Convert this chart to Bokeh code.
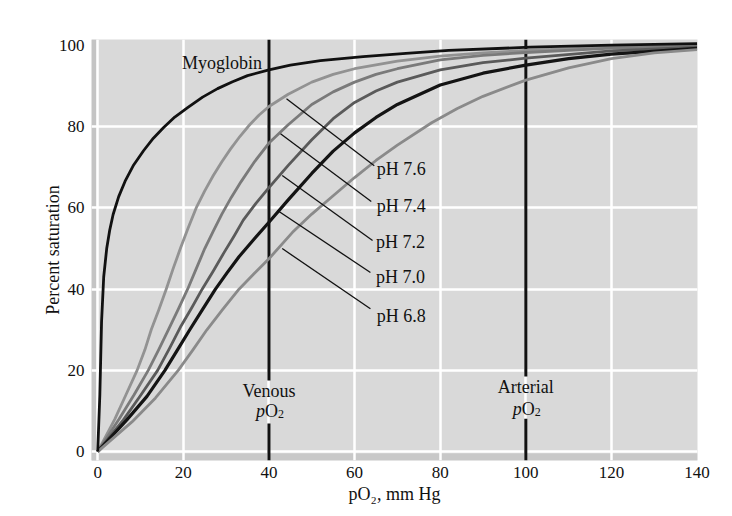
from bokeh.plotting import figure
from bokeh.models import Range1d, BoxAnnotation, FixedTicker
from bokeh.core.properties import value
from bokeh.embed import file_html
from bokeh.resources import INLINE

FONT = "Liberation Serif"

# ---------------- data ----------------
x_ticks = [0, 20, 40, 60, 80, 100, 120, 140]
y_ticks = [0, 20, 40, 60, 80, 100]

myo_x = [0, 0.5, 0.9, 1.4, 2.1, 2.8, 3.6, 4.9, 6.4, 8.4, 10.7, 13, 15.4, 18, 21, 24.5, 28, 31.5, 35, 40,
         45, 52, 62, 72, 82, 101, 120, 140]
myo_y = [0, 14, 32, 43, 50, 54.5, 58.4, 62.8, 66.6, 70.6, 74.1, 77.2, 79.8, 82.4, 84.7, 87.3, 89.4, 91.1,
         92.6, 94, 95.2, 96.3, 97.3, 98.1, 98.8, 99.6, 100.1, 100.5]

ph76_x = [0, 4, 6.6, 9.2, 11, 12.5, 14.3, 16, 17.6, 19.3, 21.1, 23, 25, 27, 29, 31, 33.2, 35.5, 37.7, 40,
          44.5, 50, 55, 60, 70, 80, 90, 100, 120, 140]
ph76_y = [0, 8, 14, 20, 25, 30, 35, 40, 45, 50, 55, 60, 64.2, 68, 71.4, 74.5, 77.6, 80.5, 82.9, 85,
          88, 91, 92.9, 94.3, 96.2, 97.4, 98.2, 98.8, 99.6, 100]

ph74_x = [0, 5, 8.5, 11.8, 14.2, 16.5, 18.8, 21, 23, 25, 27, 29, 31.2, 33.5, 36.7, 40, 44.5, 50, 55, 60,
          65, 70, 80, 90, 100, 120, 140]
ph74_y = [0, 8, 14, 20, 25, 30, 35, 40, 45, 50, 54.3, 58.5, 62.6, 66.5, 71.5, 76, 80.5, 85.5, 88.6, 91,
          92.9, 94.3, 96.5, 97.6, 98.3, 99.4, 99.8]

ph72_x = [0, 6, 10, 14, 16.8, 19.5, 22, 24.4, 27, 29.5, 31.8, 34, 37, 40, 44.5, 50, 55, 60, 65, 70,
          80, 90, 100, 120, 140]
ph72_y = [0, 7.8, 13.8, 20, 25.5, 31, 35.5, 40, 44.5, 49, 53, 57, 61.2, 65, 70.5, 76.8, 82, 86, 88.8, 91,
          94, 95.8, 96.9, 98.7, 99.6]

ph70_x = [0, 6.8, 11.5, 15.7, 18.6, 21.5, 24.5, 27.5, 30.2, 33, 36.5, 40, 44.5, 50, 55, 60, 65, 70,
          80, 90, 100, 110, 120, 140]
ph70_y = [0, 7.8, 13.6, 20, 25, 30, 35, 40, 44, 48, 52.3, 56.5, 62, 68.5, 74, 78.5, 82.3, 85.5,
          90.3, 93.2, 95.2, 96.8, 97.9, 99.3]

ph68_x = [0, 8, 13.5, 18.8, 22.2, 25.5, 29.2, 33, 36.5, 40, 45.5, 50, 55, 60, 65, 70, 78, 84, 90, 100,
          110, 120, 130, 140]
ph68_y = [0, 7.3, 13.2, 20, 25, 30, 35, 40, 43.8, 47.5, 54, 58.5, 63, 67.5, 71.7, 75.5, 81, 84.5, 87.5, 91.5,
          94.5, 96.8, 98.2, 99]

curve_colors = ["#929292", "#7a7a7a", "#5a5a5a", "#141414", "#8a8a8a"]
curve_widths = [2.8, 2.8, 2.8, 3.2, 2.8]

ph_labels = ["pH 7.6", "pH 7.4", "pH 7.2", "pH 7.0", "pH 6.8"]
ph_label_x = [65.2, 65.2, 65.0, 65.0, 65.2]
ph_label_y = [69.5, 60.4, 51.5, 43.1, 33.3]
lead_x0 = [44.1, 42.7, 43.1, 42.0, 43.1]
lead_y0 = [86.9, 78.3, 68.0, 59.4, 50.0]
lead_x1 = [64.6, 63.9, 64.2, 63.7, 63.7]
lead_y1 = [70.4, 61.6, 52.0, 44.1, 35.2]

ref_x = [40, 100]
ref_names = ["Venous", "Arterial"]
ref_gap_top = [17.5, 18.5]
ref_gap_bottom = [6.9, 8.1]
ref_name_y = [15.0, 15.8]
ref_po2_y = [9.9, 10.6]

X0, X1 = -1.45, 140.1
Y0, Y1 = -2.2, 101.5

# ---------------- figure ----------------
p = figure(frame_width=606, frame_height=421,
           x_range=Range1d(X0, X1), y_range=Range1d(Y0, Y1),
           output_backend="svg", toolbar_location=None,
           min_border_left=91, min_border_top=39, min_border_right=15, min_border_bottom=48)
p.background_fill_color = "#d9d9d9"
p.border_fill_color = "white"
p.outline_line_color = None

# darker scan shading strips
p.add_layout(BoxAnnotation(left=X0, right=-0.3, fill_color="#c4c4c4", fill_alpha=1, line_color=None, level="image"))
p.add_layout(BoxAnnotation(bottom=Y0, top=-0.5, fill_color="#c8c8c8", fill_alpha=1, line_color=None, level="image"))

p.xgrid.ticker = FixedTicker(ticks=x_ticks[:-1])
p.ygrid.ticker = FixedTicker(ticks=y_ticks[:-1])
for g in (p.xgrid, p.ygrid):
    g.grid_line_color = "white"
    g.grid_line_width = 2.5

for ax in (p.xaxis, p.yaxis):
    ax.axis_line_color = None
    ax.major_tick_line_color = None
    ax.minor_tick_line_color = None
    ax.major_tick_in = 0
    ax.major_tick_out = 0
    ax.major_label_text_font = FONT
    ax.major_label_text_font_size = "17px"
    ax.major_label_text_color = "#111111"
    ax.axis_label_text_font = FONT
    ax.axis_label_text_font_size = "18px"
    ax.axis_label_text_font_style = "normal"
    ax.axis_label_text_color = "#111111"
p.xaxis.ticker = FixedTicker(ticks=x_ticks)
p.yaxis.ticker = FixedTicker(ticks=y_ticks)
p.xaxis.major_label_standoff = 6
p.yaxis.major_label_standoff = 7

p.yaxis.axis_label = "Percent saturation"
p.yaxis.axis_label_standoff = -7
p.xaxis.axis_label = "pO\u2082, mm Hg"
p.xaxis.axis_label_standoff = 3

# venous / arterial reference lines (broken around their labels)
p.segment(x0=ref_x, y0=[Y1] * 2, x1=ref_x, y1=ref_gap_top, line_color="#111111", line_width=3)
p.segment(x0=ref_x, y0=ref_gap_bottom, x1=ref_x, y1=[Y0] * 2, line_color="#111111", line_width=3)
p.text(x=ref_x, y=ref_name_y, text=ref_names, text_font=value(FONT), text_font_size=value("18px"),
       text_align="center", text_baseline="alphabetic", text_color="#111111")
p.text(x=ref_x, y=ref_po2_y, text=["p", "p"], text_font=value(FONT), text_font_size=value("18px"),
       text_font_style="italic", text_align="right", text_baseline="alphabetic",
       x_offset=-4, text_color="#111111")
p.text(x=ref_x, y=ref_po2_y, text=["O", "O"], text_font=value(FONT), text_font_size=value("18px"),
       text_align="left", text_baseline="alphabetic", x_offset=-4, text_color="#111111")
p.text(x=ref_x, y=ref_po2_y, text=["2", "2"], text_font=value(FONT), text_font_size=value("12px"),
       text_align="left", text_baseline="alphabetic", x_offset=9, y_offset=3, text_color="#111111")

# curves
curves = [(ph76_x, ph76_y), (ph74_x, ph74_y), (ph72_x, ph72_y), (ph70_x, ph70_y), (ph68_x, ph68_y)]
for (cx, cy), col, w in zip(curves, curve_colors, curve_widths):
    p.line(cx, cy, line_color=col, line_width=w, line_join="round")
p.line(myo_x, myo_y, line_color="#111111", line_width=2.8, line_join="round")

# leaders and labels
p.segment(x0=lead_x0, y0=lead_y0, x1=lead_x1, y1=lead_y1, line_color="#111111", line_width=1.3)
p.text(x=ph_label_x, y=ph_label_y, text=ph_labels, text_font=value(FONT), text_font_size=value("18px"),
       text_align="left", text_baseline="alphabetic", text_color="#111111")
p.text(x=[19.7], y=[95.8], text=["Myoglobin"], text_font=value(FONT), text_font_size=value("18px"),
       text_align="left", text_baseline="alphabetic", text_color="#111111")

open("out.html", "w").write(file_html(p, INLINE))
